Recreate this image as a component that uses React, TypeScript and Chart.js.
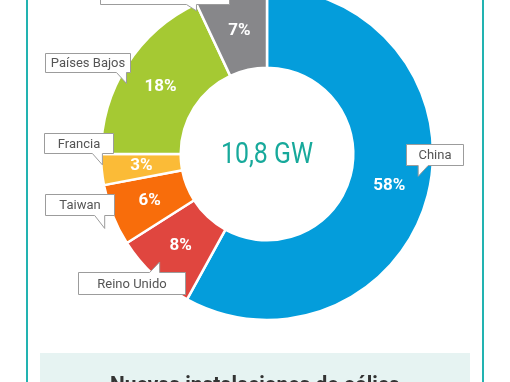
import React, { useEffect, useRef } from "react";
import { Chart, registerables } from "chart.js";

Chart.register(...registerables);

const categories = ["China", "Reino Unido", "Taiwan", "Francia", "Países Bajos", "Resto del mundo"];
const shares = [58, 8, 6, 3, 18, 7];
const sliceColors = ["#049ddb", "#e0463f", "#f86d0b", "#fbbb37", "#a5c933", "#87878a"];
const centerLabel = "10,8 GW";
const footerTitle = "Nuevas instalaciones de eólica";

// callout layout relative to each slice centroid: box [dx, dy, w, h], tip [dx, dy], pointer edge & side
const calloutBox = [
  [17, -41, 57, 21],
  [-103, 26, 107, 22],
  [-105, -6, 69, 21],
  [-97, -33, 69, 20],
  [-115, -33, 85, 19],
  [-139, -47, 129, 20],
];
const calloutTip = [
  [29, -9],
  [-21, 16],
  [-45, 28],
  [-39, -1],
  [-34, -3],
  [-43, -20],
];
const calloutEdge = ["bottom", "top", "bottom", "bottom", "bottom", "bottom"];
const calloutSide = ["left", "right", "right", "right", "right", "right"];

const W = 510;
const H = 422;
const SHIFT = 40;

const decorPlugin = {
  id: "decor",
  beforeDraw(chart: any) {
    const ctx = chart.ctx;
    ctx.save();
    ctx.fillStyle = "#ffffff";
    ctx.fillRect(0, 0, W, H);
    // frame
    ctx.fillStyle = "#22b3b1";
    ctx.fillRect(26, 0, 2, H);
    ctx.fillRect(482, 0, 2, H);
    // footer box
    ctx.fillStyle = "#e6f3f2";
    ctx.fillRect(40, 353 + SHIFT, 430, 60);
    ctx.fillStyle = "#333333";
    ctx.font = "bold 22px Roboto";
    ctx.textAlign = "center";
    ctx.textBaseline = "alphabetic";
    ctx.fillText(footerTitle, 255, 392 + SHIFT, 290);
    ctx.restore();
  },
  afterDraw(chart: any) {
    const ctx = chart.ctx;
    const meta = chart.getDatasetMeta(0);
    ctx.save();
    meta.data.forEach((arc: any, i: number) => {
      const c = arc.tooltipPosition();
      // percentage
      ctx.fillStyle = "#ffffff";
      ctx.font = "bold 17px Roboto";
      ctx.textAlign = "center";
      ctx.textBaseline = "middle";
      ctx.fillText(shares[i] + "%", c.x, c.y);
      // callout
      const [bx, by, bw, bh] = calloutBox[i];
      const x = Math.round(c.x + bx) + 0.5;
      const y = Math.round(c.y + by) + 0.5;
      const tx = c.x + calloutTip[i][0];
      const ty = c.y + calloutTip[i][1];
      const pw = 10;
      const x1 = calloutSide[i] === "left" ? tx : tx - pw;
      const x2 = calloutSide[i] === "left" ? tx + pw : tx;
      ctx.beginPath();
      if (calloutEdge[i] === "bottom") {
        ctx.moveTo(x, y);
        ctx.lineTo(x + bw, y);
        ctx.lineTo(x + bw, y + bh);
        ctx.lineTo(x2, y + bh);
        ctx.lineTo(tx, ty);
        ctx.lineTo(x1, y + bh);
        ctx.lineTo(x, y + bh);
      } else {
        ctx.moveTo(x, y);
        ctx.lineTo(x1, y);
        ctx.lineTo(tx, ty);
        ctx.lineTo(x2, y);
        ctx.lineTo(x + bw, y);
        ctx.lineTo(x + bw, y + bh);
        ctx.lineTo(x, y + bh);
      }
      ctx.closePath();
      ctx.fillStyle = "#ffffff";
      ctx.fill();
      ctx.strokeStyle = "#9c9c9c";
      ctx.lineWidth = 1;
      ctx.stroke();
      ctx.fillStyle = "#555555";
      ctx.font = "13px Roboto";
      ctx.textAlign = "center";
      ctx.textBaseline = "middle";
      ctx.fillText(categories[i], x + bw / 2, y + bh / 2 + 1);
    });
    // center text
    const a = meta.data[0];
    ctx.fillStyle = "#17a99b";
    ctx.font = "30px Roboto";
    ctx.textAlign = "center";
    ctx.textBaseline = "middle";
    ctx.fillText(centerLabel, a.x, a.y + 1, 92);
    ctx.restore();
  },
};

export default function App() {
  const ref = useRef<HTMLCanvasElement | null>(null);
  useEffect(() => {
    if (!ref.current) return;
    const chart = new Chart(ref.current, {
      type: "doughnut",
      data: {
        labels: categories,
        datasets: [
          {
            data: shares,
            backgroundColor: sliceColors,
            borderColor: "#ffffff",
            borderWidth: 2.5,
          },
        ],
      },
      options: {
        responsive: false,
        animation: false,
        radius: 166,
        cutout: "52%",
        layout: { padding: { left: 101, right: 77, top: 28, bottom: 62 } },
        plugins: { legend: { display: false }, tooltip: { enabled: false } },
        events: [],
      } as any,
      plugins: [decorPlugin],
    });
    return () => chart.destroy();
  }, []);
  return (
    <div style={{ position: "absolute", left: 0, top: 0, width: W, height: 382, overflow: "hidden", background: "#fff" }}>
      <canvas ref={ref} width={W} height={H} style={{ position: "absolute", left: 0, top: -SHIFT, width: W, height: H }} />
    </div>
  );
}
